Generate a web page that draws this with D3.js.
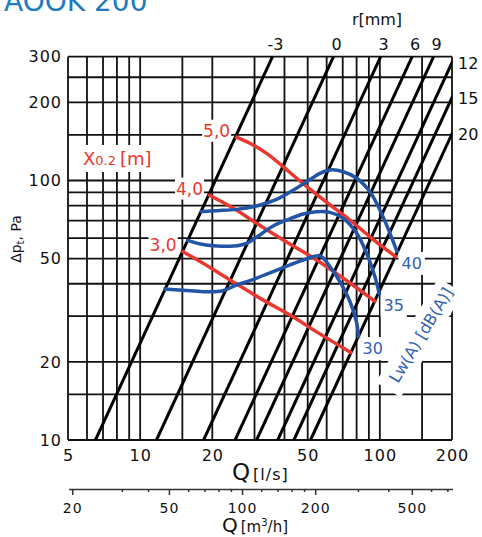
<!DOCTYPE html>
<html>
<head>
<meta charset="utf-8">
<script src="https://cdn.jsdelivr.net/npm/d3@7"></script>
<style>
  body { margin: 0; background: #fff; }
  svg { display: block; font-family: "DejaVu Sans", sans-serif; }
</style>
</head>
<body>
<div id="chart"></div>
<script>
// airflow Q [l/s] vs pressure drop, log-log
const qTicks = [5, 10, 20, 50, 100, 200];
const pTicks = [10, 20, 50, 100, 200, 300];
const qGrid = [5, 6, 7, 8, 9, 10, 15, 20, 30, 40, 50, 60, 70, 80, 90, 100, 150, 200];
const pGrid = [10, 15, 20, 30, 40, 50, 60, 70, 80, 90, 100, 150, 200, 250, 300];
const m3hMajor = [20, 50, 100, 200, 500];
const m3hMinor = [32, 41, 60, 70, 80, 90, 120, 140, 160, 180, 300, 400, 600, 700];

// damper setting lines r[mm], given as Q where dp = 10 Pa
const rLabels = ["-3", "0", "3", "6", "9", "12", "15", "20"];
const rQat10 = [6.51, 11.7, 18.4, 24.9, 30.6, 37.5, 43.8, 51.4];

// throw X0.2 [m]
const throwLabels = ["5,0", "4,0", "3,0"];
const throw50 = [[24.9, 147.5], [28.7, 139.1], [33.7, 127.3], [39.5, 113.1], [45.0, 102], [51.1, 92.6], [62.0, 80.5], [75.1, 70.4], [90.9, 60.7], [117.9, 50.5]];
const throw40 = [[19.2, 88.3], [24.5, 78.1], [30.6, 68.4], [39.5, 59.0], [54.5, 49.4], [70.4, 42.0], [96.4, 34.0]];
const throw30 = [[14.9, 53.5], [18.3, 48.0], [23.7, 41.4], [32.6, 34.6], [42.2, 30.3], [54.5, 26.1], [76.5, 21.6]];

// sound Lw(A) [dB(A)]
const soundLabels = ["40", "35", "30"];
const sound40 = [[17.8, 75.8], [20.9, 76.5], [25.3, 77.4], [30.6, 79.8], [37.1, 84.6], [43.6, 91.9], [49.5, 98.9], [56.3, 106.6], [62.0, 109.8], [70.4, 108.1], [80.1, 102], [90.9, 90.5], [100.1, 77.0], [110.2, 62.6], [118.5, 52.6]];
const sound35 = [[15.6, 59.0], [17.8, 56.9], [20.9, 55.9], [24.5, 55.9], [27.8, 57.3], [31.6, 61.7], [35.9, 66.8], [42.2, 71.2], [47.9, 74.3], [54.5, 75.8], [62.0, 75.4], [70.4, 71.5], [80.1, 62.6], [88.1, 52.4], [95.4, 42.6], [99.7, 36.2]];
const sound30 = [[12.5, 38.2], [15.1, 37.8], [18.3, 37.3], [21.9, 37.5], [25.3, 39.6], [29.7, 41.6], [34.8, 44.1], [42.2, 47.3], [47.9, 49.4], [56.3, 51.2], [62.0, 46.5], [68.2, 40.7], [75.1, 34.1], [80.1, 28.2], [81.5, 24.7]];

const red = "#e8382f";
const blue = "#2354a6";
const labelBlue = "#3461b3";

const svg = d3.select("#chart")
  .append("svg")
  .attr("width", 482)
  .attr("height", 537);

const x = d3.scaleLog().domain([5, 200]).range([68, 452]);
const y = d3.scaleLog().domain([10, 300]).range([440, 56.7]);
const xm = d3.scaleLog().domain([19.3, 735]).range([68.5, 452.5]);

const [x0, x1] = x.range();
const [y0, y1] = y.range();

// title (cut off at top)
svg.append("text")
  .attr("x", 4)
  .attr("y", 11)
  .attr("font-size", 28)
  .attr("fill", "#1b7bc4")
  .text("AOOK 200");

// grid
const grid = svg.append("g").attr("stroke", "#111").attr("stroke-width", 1.8);
grid.selectAll("line.v")
  .data(qGrid)
  .join("line")
  .attr("class", "v")
  .attr("x1", d => x(d)).attr("x2", d => x(d))
  .attr("y1", y1).attr("y2", y0);
grid.selectAll("line.h")
  .data(pGrid)
  .join("line")
  .attr("class", "h")
  .attr("x1", x0).attr("x2", x1)
  .attr("y1", d => y(d)).attr("y2", d => y(d));

svg.append("clipPath")
  .attr("id", "plot-clip")
  .append("rect")
  .attr("x", x0).attr("y", y1)
  .attr("width", x1 - x0).attr("height", y0 - y1);

// r lines: dp ~ Q^2
const pMin = y.domain()[0], pMax = y.domain()[1];
svg.append("g")
  .attr("clip-path", "url(#plot-clip)")
  .selectAll("line")
  .data(rQat10)
  .join("line")
  .attr("x1", d => x(d)).attr("y1", y(pMin))
  .attr("x2", d => x(d * Math.sqrt(pMax / pMin))).attr("y2", y(pMax))
  .attr("stroke", "#000")
  .attr("stroke-width", 3);

const rText = svg.append("g").attr("font-size", 16).attr("fill", "#111");
rQat10.forEach(function(q, i) {
  const qTop = q * Math.sqrt(pMax / pMin);
  if (qTop <= 200) {
    rText.append("text")
      .attr("x", x(qTop) + 3)
      .attr("y", 50)
      .attr("text-anchor", "middle")
      .text(rLabels[i]);
  } else {
    const pEnd = pMin * Math.pow(200 / q, 2);
    rText.append("text")
      .attr("x", x(200) + 6)
      .attr("y", y(pEnd) + 6)
      .text(rLabels[i]);
  }
});
rText.append("text")
  .attr("x", 377)
  .attr("y", 25)
  .attr("text-anchor", "middle")
  .text("r[mm]");

// white boxes under labels
const boxLayer = svg.append("g");
const topLayer = svg.append("g");

function boxBehind(sel, padX, padY) {
  const b = sel.node().getBBox();
  boxLayer.append("rect")
    .attr("x", b.x - padX).attr("y", b.y - padY)
    .attr("width", b.width + 2 * padX).attr("height", b.height + 2 * padY)
    .attr("fill", "#fff");
}

// Lw label, rotated with white box
const lwG = svg.append("g").attr("transform", "translate(421,335) rotate(-59)");
const lwBox = lwG.append("rect").attr("fill", "#fff");
const lwText = lwG.append("text")
  .attr("text-anchor", "middle")
  .attr("dy", "0.35em")
  .attr("font-size", 16)
  .attr("fill", labelBlue)
  .text("Lw(A) [dB(A)]");
const lb = lwText.node().getBBox();
lwBox.attr("x", lb.x - 10).attr("y", lb.y - 5).attr("width", lb.width + 14).attr("height", lb.height + 10);

// throw lines (nearly straight) and sound curves
const throwLine = d3.line()
  .x(d => x(d[0]))
  .y(d => y(d[1]))
  .curve(d3.curveMonotoneX);

const soundLine = d3.line()
  .x(d => x(d[0]))
  .y(d => y(d[1]))
  .curve(d3.curveCatmullRom.alpha(0.5));

const throws = [throw50, throw40, throw30];
throws.forEach(function(s, i) {
  topLayer.append("path")
    .attr("d", throwLine(s))
    .attr("fill", "none")
    .attr("stroke", red)
    .attr("stroke-width", 3.5);
  const t = topLayer.append("text")
    .attr("x", x(s[0][0]) - 5)
    .attr("y", y(s[0][1]))
    .attr("text-anchor", "end")
    .attr("font-size", 17)
    .attr("fill", red)
    .text(throwLabels[i]);
  boxBehind(t, 1, 1);
});

const sounds = [sound40, sound35, sound30];
sounds.forEach(function(s, i) {
  topLayer.append("path")
    .attr("d", soundLine(s))
    .attr("fill", "none")
    .attr("stroke", blue)
    .attr("stroke-width", 3.5);
  const last = s[s.length - 1];
  const t = topLayer.append("text")
    .attr("x", x(last[0]) + 4)
    .attr("y", y(last[1]) + 16)
    .attr("font-size", 16)
    .attr("fill", labelBlue)
    .text(soundLabels[i]);
  boxBehind(t, 3, 2);
});

// X0.2 [m]
const xLabel = topLayer.append("text")
  .attr("x", 83)
  .attr("y", 165)
  .attr("fill", red)
  .attr("font-size", 18);
xLabel.append("tspan").text("X");
xLabel.append("tspan").attr("font-size", 13).text("0.2");
xLabel.append("tspan").attr("dx", 4).text("[m]");
boxBehind(xLabel, 4, 3);

// axes
function styleAxis(g, size) {
  g.select(".domain").remove();
  g.selectAll("text")
    .attr("font-family", "DejaVu Sans, sans-serif")
    .attr("font-size", size)
    .attr("letter-spacing", 1)
    .attr("fill", "#111");
}

svg.append("g")
  .attr("transform", `translate(${x0},0)`)
  .call(d3.axisLeft(y).tickValues(pTicks).tickSize(0).tickPadding(6).tickFormat(d3.format("d")))
  .call(g => styleAxis(g, 16));

svg.append("g")
  .attr("transform", `translate(0,${y0})`)
  .call(d3.axisBottom(x).tickValues(qTicks).tickSize(0).tickPadding(10).tickFormat(d3.format("d")))
  .call(g => styleAxis(g, 16));

// m3/h axis
svg.append("g")
  .attr("transform", "translate(0,489)")
  .call(d3.axisBottom(xm).tickValues(m3hMinor).tickSize(3).tickSizeOuter(0).tickFormat(""))
  .call(g => g.select(".domain").remove())
  .call(g => g.selectAll("line").attr("stroke", "#333").attr("stroke-width", 1.5));

svg.append("g")
  .attr("transform", "translate(0,489)")
  .call(d3.axisBottom(xm).tickValues(m3hMajor).tickSize(6).tickSizeOuter(0).tickPadding(8).tickFormat(d3.format("d")))
  .call(g => g.select(".domain").attr("stroke", "#333").attr("stroke-width", 1.5))
  .call(g => g.selectAll("line").attr("stroke", "#333").attr("stroke-width", 1.5))
  .call(g => g.selectAll("text")
    .attr("font-family", "DejaVu Sans, sans-serif")
    .attr("font-size", 14)
    .attr("letter-spacing", 1)
    .attr("fill", "#111"));

// axis titles
const qls = svg.append("text").attr("y", 480).attr("fill", "#111");
qls.append("tspan").attr("x", 232).attr("font-size", 23).text("Q");
qls.append("tspan").attr("dx", 3).attr("font-size", 16).attr("letter-spacing", 1).text("[l/s]");

const qm3 = svg.append("text").attr("y", 532).attr("fill", "#111");
qm3.append("tspan").attr("x", 222).attr("font-size", 20).text("Q");
qm3.append("tspan").attr("dx", 3).attr("font-size", 15).text("[m");
qm3.append("tspan").attr("font-size", 10).attr("dy", -6).text("3");
qm3.append("tspan").attr("font-size", 15).attr("dy", 6).text("/h]");

const yTitle = svg.append("text")
  .attr("transform", "translate(21,239) rotate(-90)")
  .attr("text-anchor", "middle")
  .attr("font-size", 14)
  .attr("fill", "#111");
yTitle.append("tspan").text("Δp");
yTitle.append("tspan").attr("font-size", 10).attr("dy", 3).text("t");
yTitle.append("tspan").attr("dy", -3).text(", Pa");
</script>
</body>
</html>
